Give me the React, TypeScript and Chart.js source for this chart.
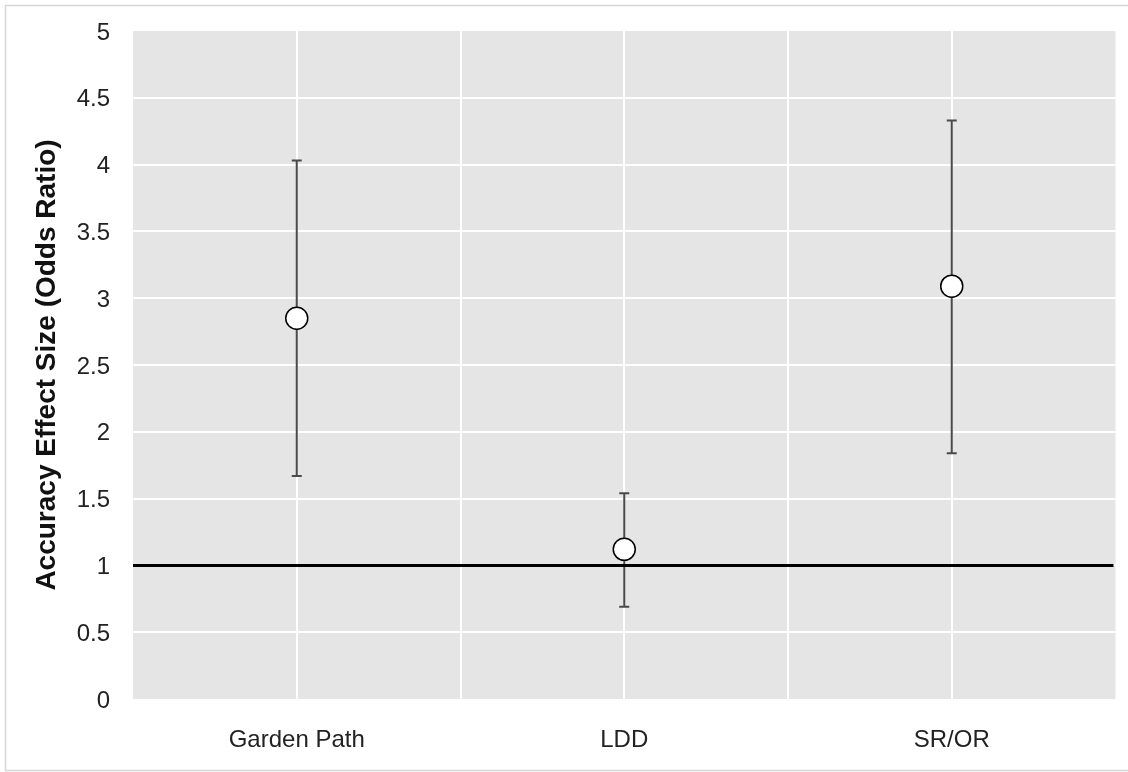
import React, { useEffect, useRef } from "react";
import { Chart, registerables } from "chart.js";

Chart.register(...registerables);

const categories: string[] = ["Garden Path", "LDD", "SR/OR"];
const oddsRatio: number[] = [2.85, 1.12, 3.09];
const lowerCI: number[] = [1.67, 0.69, 1.84];
const upperCI: number[] = [4.03, 1.54, 4.33];
const referenceValue = 1;
const yMin = 0;
const yMax = 5;
const yStep = 0.5;

const FONT = "'Liberation Sans', Arial, Helvetica, sans-serif";

const decorPlugin = {
  id: "decor",
  beforeDraw(chart: any) {
    const { ctx, chartArea } = chart;
    ctx.save();
    ctx.fillStyle = "#ffffff";
    ctx.fillRect(0, 0, chart.width, chart.height);
    ctx.strokeStyle = "#d6d6d6";
    ctx.lineWidth = 1.5;
    ctx.beginPath();
    ctx.moveTo(chart.width + 2, 5.5);
    ctx.lineTo(5.5, 5.5);
    ctx.lineTo(5.5, 770.5);
    ctx.lineTo(chart.width + 2, 770.5);
    ctx.stroke();
    ctx.fillStyle = "#e5e5e5";
    ctx.fillRect(chartArea.left, chartArea.top, chartArea.right - chartArea.left, chartArea.bottom - chartArea.top);
    ctx.restore();
  },
  beforeDatasetsDraw(chart: any) {
    const { ctx, chartArea, scales } = chart;
    const xs = scales.x;
    const ys = scales.y;
    ctx.save();
    ctx.strokeStyle = "#4a4a4a";
    ctx.lineWidth = 2;
    for (let i = 0; i < categories.length; i++) {
      const x = xs.getPixelForValue(i);
      const yl = ys.getPixelForValue(lowerCI[i]);
      const yu = ys.getPixelForValue(upperCI[i]);
      ctx.beginPath();
      ctx.moveTo(x, yl);
      ctx.lineTo(x, yu);
      ctx.moveTo(x - 5, yl);
      ctx.lineTo(x + 5, yl);
      ctx.moveTo(x - 5, yu);
      ctx.lineTo(x + 5, yu);
      ctx.stroke();
    }
    const yr = ys.getPixelForValue(referenceValue);
    ctx.strokeStyle = "#000000";
    ctx.lineWidth = 3;
    ctx.beginPath();
    ctx.moveTo(chartArea.left, yr);
    ctx.lineTo(chartArea.right - 2, yr);
    ctx.stroke();
    ctx.restore();
  },
};

export default function App() {
  const canvasRef = useRef<HTMLCanvasElement | null>(null);

  useEffect(() => {
    document.body.style.margin = "0";
    const canvas = canvasRef.current;
    if (!canvas) return;
    const chart = new Chart(canvas, {
      type: "scatter",
      data: {
        datasets: [
          {
            data: oddsRatio.map((v, i) => ({ x: i, y: v })),
            pointRadius: 11,
            pointHoverRadius: 11,
            pointBackgroundColor: "#ffffff",
            pointBorderColor: "#000000",
            pointBorderWidth: 1.5,
            showLine: false,
          },
        ],
      },
      options: {
        responsive: false,
        animation: false,
        events: [],
        layout: { padding: { left: 0, top: 31, right: 11, bottom: 0 } },
        plugins: { legend: { display: false }, tooltip: { enabled: false } },
        scales: {
          x: {
            type: "linear",
            min: -0.5,
            max: categories.length - 0.5,
            afterFit(scale: any) {
              scale.height = 73;
              scale.paddingLeft = 0;
              scale.paddingRight = 0;
            },
            border: { display: false },
            grid: {
              drawTicks: false,
              lineWidth: 2,
              color: (c: any) =>
                c.tick && (c.tick.value <= -0.5 || c.tick.value >= categories.length - 0.5)
                  ? "rgba(0,0,0,0)"
                  : "#ffffff",
            },
            ticks: {
              stepSize: 0.5,
              autoSkip: false,
              maxRotation: 0,
              padding: 27,
              color: "#222222",
              font: { family: FONT, size: 24 },
              callback: (v: any) => {
                const n = Number(v);
                return Number.isInteger(n) && n >= 0 && n < categories.length ? categories[n] : "";
              },
            },
          },
          y: {
            min: yMin,
            max: yMax,
            afterFit(scale: any) {
              scale.width = 133;
              scale.paddingTop = 0;
              scale.paddingBottom = 0;
            },
            border: { display: false },
            grid: {
              drawTicks: false,
              lineWidth: 2,
              color: (c: any) =>
                c.tick && (c.tick.value <= yMin || c.tick.value >= yMax) ? "rgba(0,0,0,0)" : "#ffffff",
            },
            ticks: {
              stepSize: yStep,
              padding: 23,
              labelOffset: 2,
              color: "#222222",
              font: { family: FONT, size: 24 },
              callback: (v: any) => String(Number(v)),
            },
            title: {
              display: true,
              text: "Accuracy Effect Size (Odds Ratio)",
              color: "#111111",
              font: { family: FONT, size: 28, weight: "bold" },
              padding: { top: 30, bottom: 0 },
            },
          },
        },
      },
      plugins: [decorPlugin],
    });
    return () => chart.destroy();
  }, []);

  return (
    <div style={{ width: 1128, height: 772 }}>
      <canvas ref={canvasRef} width={1128} height={772} style={{ display: "block" }} />
    </div>
  );
}
